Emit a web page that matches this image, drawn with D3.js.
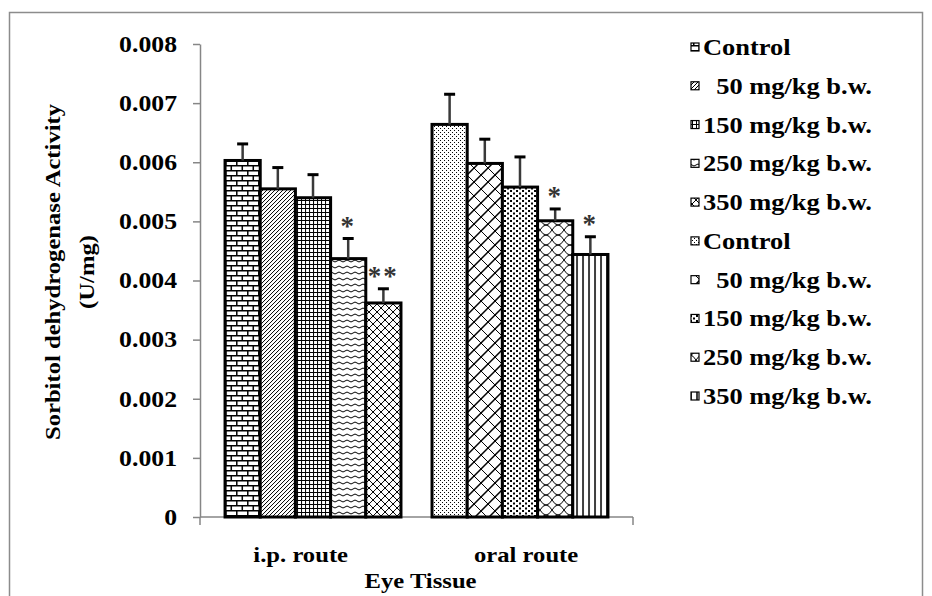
<!DOCTYPE html>
<html>
<head>
<meta charset="utf-8">
<script src="https://cdn.jsdelivr.net/npm/d3@7"></script>
<style>
  body { margin: 0; background: #fff; }
  text { font-family: "Liberation Serif", "Times New Roman", serif; font-weight: bold; white-space: pre; }
</style>
</head>
<body>
<div id="chart"></div>
<script>
// values
const routes = ["i.p. route\u00a0\u00a0\u00a0\u00a0", "\u00a0\u00a0oral route"];
const doses = ["Control", "\u00a0\u00a050 mg/kg b.w.", "150 mg/kg b.w.", "250 mg/kg b.w.", "350 mg/kg b.w."];
const ipMeans = [0.00603, 0.00555, 0.00540, 0.00437, 0.00362];
const ipErrors = [0.00028, 0.00036, 0.00039, 0.00034, 0.00024];
const ipSig = ["", "", "", "*", "**"];
const oralMeans = [0.00664, 0.00598, 0.00558, 0.00501, 0.00444];
const oralErrors = [0.00051, 0.00041, 0.00051, 0.00020, 0.00030];
const oralSig = ["", "", "", "*", "*"];
const yTicks = [0, 0.001, 0.002, 0.003, 0.004, 0.005, 0.006, 0.007, 0.008];
const yTickLabels = ["0", "0.001", "0.002", "0.003", "0.004", "0.005", "0.006", "0.007", "0.008"];
const legendLabels = doses.concat(doses);

const width = 932, height = 596;
const SX = 1.12;   // the original text is drawn a bit wide
const axisColor = "#868686";

const svg = d3.select("#chart").append("svg")
  .attr("width", width)
  .attr("height", height);

// outer frame
svg.append("rect")
  .attr("x", 9.5).attr("y", 12.5)
  .attr("width", 913).attr("height", 600)
  .attr("fill", "none")
  .attr("stroke", "#8c8c8c")
  .attr("stroke-width", 1.5);

// fill patterns, one per series
const defs = svg.append("defs");
function pattern(id, w, h, draw) {
  const p = defs.append("pattern")
    .attr("id", id)
    .attr("patternUnits", "userSpaceOnUse")
    .attr("width", w).attr("height", h);
  p.append("rect").attr("width", w).attr("height", h).attr("fill", "#fff");
  draw(p);
}
function line(p, d, sw) {
  p.append("path").attr("d", d).attr("fill", "none").attr("stroke", "#000").attr("stroke-width", sw);
}
pattern("p0", 11, 10, p => line(p, "M0,0.75H11 M0,5.75H11 M0.75,0V5 M6.25,5V10", 1.5));
pattern("p1", 4, 4, p => line(p, "M0,4L4,0 M-1,1L1,-1 M3,5L5,3", 1));
pattern("p2", 4, 4, p => line(p, "M0,0.5H4 M0.5,0V4", 1));
pattern("p3", 8, 6, p => line(p, "M0,3 Q2,1 4,3 T8,3", 1));
pattern("p4", 8, 8, p => line(p, "M0,0L8,8 M8,0L0,8", 1));
pattern("p5", 4, 4, p => {
  p.append("rect").attr("x", 0).attr("y", 0).attr("width", 1).attr("height", 1);
  p.append("rect").attr("x", 2).attr("y", 2).attr("width", 1).attr("height", 1);
});
pattern("p6", 14, 14, p => {
  line(p, "M0,14L14,0 M-2,2L2,-2 M12,16L16,12", 1.5);
  line(p, "M0,0L14,14", 1);
});
pattern("p7", 6, 5, p => {
  p.append("rect").attr("x", 0).attr("y", 0).attr("width", 2).attr("height", 2);
  p.append("rect").attr("x", 3).attr("y", 2.5).attr("width", 2).attr("height", 2);
});
pattern("p8", 12, 10, p => line(p, "M0,0 Q6,10 12,0 M0,10 Q6,0 12,10", 1));
pattern("p9", 6, 6, p => line(p, "M1,0V6", 1.5));

// scales
const x0 = d3.scaleBand()
  .domain(routes)
  .range([200, 633])
  .paddingInner(0.15)
  .paddingOuter(0.121);

const x1 = d3.scaleBand()
  .domain(d3.range(doses.length))
  .range([0, x0.bandwidth()]);

const y = d3.scaleLinear()
  .domain([0, 0.008])
  .range([517, 44]);

// y axis
const yAxis = svg.append("g")
  .attr("transform", "translate(200,0)")
  .call(d3.axisLeft(y)
    .tickValues(yTicks)
    .tickFormat((d, i) => yTickLabels[i])
    .tickSize(7)
    .tickSizeOuter(0)
    .tickPadding(13.5));
yAxis.selectAll("path, line").attr("stroke", axisColor).attr("stroke-width", 1.5);
yAxis.selectAll("text")
  .attr("font-size", 23)
  .attr("font-family", "Liberation Serif")
  .attr("font-weight", "bold")
  .attr("fill", "#000")
  .attr("transform", `scale(${SX},1)`);

// x axis line and end ticks
const xr = x0.range();
svg.append("path")
  .attr("d", `M${xr[0]},${y(0)}H${xr[1]} M${xr[0]},${y(0)}v8 M${xr[1]},${y(0)}v8`)
  .attr("fill", "none")
  .attr("stroke", axisColor)
  .attr("stroke-width", 1.5);

// bars
const series = [
  { route: routes[0], means: ipMeans, errors: ipErrors, sig: ipSig },
  { route: routes[1], means: oralMeans, errors: oralErrors, sig: oralSig }
];

series.forEach((s, si) => {
  const g = svg.append("g").attr("transform", `translate(${x0(s.route)},0)`);
  const rows = s.means.map((m, i) => ({ i, m, e: s.errors[i], sig: s.sig[i] }));

  g.selectAll("rect.bar")
    .data(rows)
    .join("rect")
    .attr("class", "bar")
    .attr("x", d => x1(d.i))
    .attr("y", d => y(d.m))
    .attr("width", x1.bandwidth())
    .attr("height", d => y(0) - y(d.m))
    .attr("fill", d => `url(#p${si * 5 + d.i})`)
    .attr("stroke", "#000")
    .attr("stroke-width", 3);

  // error bars (upper only)
  g.selectAll("line.stem")
    .data(rows)
    .join("line")
    .attr("class", "stem")
    .attr("x1", d => x1(d.i) + x1.bandwidth() / 2)
    .attr("x2", d => x1(d.i) + x1.bandwidth() / 2)
    .attr("y1", d => y(d.m))
    .attr("y2", d => y(d.m + d.e))
    .attr("stroke", "#3a3a3a")
    .attr("stroke-width", 2.5);

  g.selectAll("line.cap")
    .data(rows)
    .join("line")
    .attr("class", "cap")
    .attr("x1", d => x1(d.i) + x1.bandwidth() / 2 - 5.5)
    .attr("x2", d => x1(d.i) + x1.bandwidth() / 2 + 5.5)
    .attr("y1", d => y(d.m + d.e))
    .attr("y2", d => y(d.m + d.e))
    .attr("stroke", "#000")
    .attr("stroke-width", 3);

  g.selectAll("text.sig")
    .data(rows.filter(d => d.sig))
    .join("text")
    .attr("class", "sig")
    .attr("x", d => x1(d.i) + x1.bandwidth() / 2)
    .attr("y", d => y(d.m + d.e) - 4)
    .attr("text-anchor", "middle")
    .attr("font-family", "Liberation Sans, Arial, sans-serif")
    .attr("font-weight", "normal")
    .attr("font-size", 27)
    .attr("letter-spacing", 2)
    .attr("fill", "#333")
    .text(d => d.sig);
});

// category labels
function wideText(x, yPos, str, anchor, rotate, size, sx) {
  return svg.append("text")
    .attr("transform", `translate(${x},${yPos})` + (rotate ? " rotate(-90)" : "") + ` scale(${sx || SX},1)`)
    .attr("text-anchor", anchor)
    .attr("font-size", size || 22)
    .attr("fill", "#000")
    .text(str);
}
routes.forEach(r => wideText(x0(r) + x0.bandwidth() / 2, 562, r, "middle"));

// axis titles
wideText((xr[0] + xr[1]) / 2 + 4, 588, "Eye Tissue", "middle");
wideText(60, 272, "Sorbitol dehydrogenase Activity", "middle", true);
wideText(94, 272, "(U/mg)", "middle", true);

// legend
const ly = d3.scalePoint()
  .domain(d3.range(legendLabels.length))
  .range([47, 396]);

const legend = svg.append("g");
legendLabels.forEach((lab, i) => {
  legend.append("rect")
    .attr("x", 691)
    .attr("y", ly(i) - 4)
    .attr("width", 8).attr("height", 8)
    .attr("fill", `url(#p${i})`)
    .attr("stroke", "#000")
    .attr("stroke-width", 1.2);
  legend.append("text")
    .attr("transform", `translate(703,${ly(i) + 8}) scale(1.15,1)`)
    .attr("font-size", 23)
    .attr("fill", "#000")
    .text(lab);
});
</script>
</body>
</html>
